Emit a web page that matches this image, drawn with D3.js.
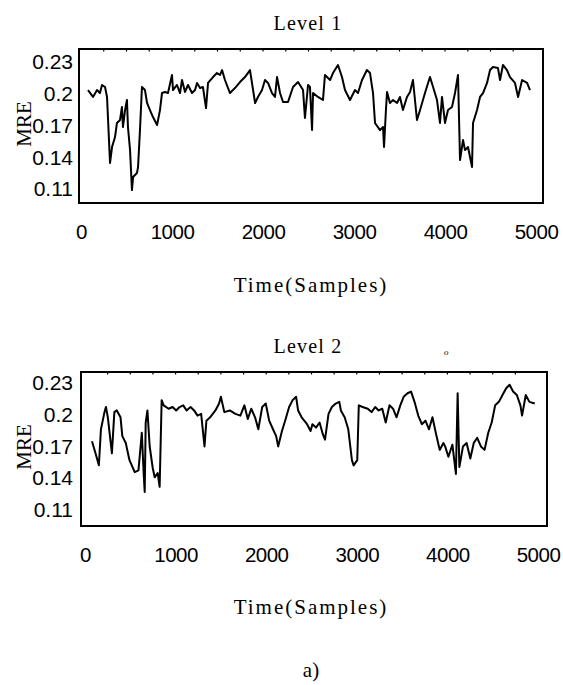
<!DOCTYPE html>
<html>
<head>
<meta charset="utf-8">
<script src="https://cdn.jsdelivr.net/npm/d3@7"></script>
<style>
  html, body { margin: 0; padding: 0; background: #fff; }
  svg { display: block; }
</style>
</head>
<body>
<svg id="chart" width="563" height="685"></svg>
<script>
// ---------------- data ----------------
const xTickValues = [0, 1000, 2000, 3000, 4000, 5000];
const yTickValues = [0.11, 0.14, 0.17, 0.2, 0.23];
const yTickLabels = ["0.11", "0.14", "0.17", "0.2", "0.23"];
const panelTitles = ["Level 1", "Level 2"];
const xAxisTitle = "Time(Samples)";
const yAxisTitle = "MRE";
const figureCaption = "a)";

const level1Samples = [77,132,176,208,231,264,286,319,341,374,395,429,450,461,484,505,516,539,560,572,615,627,648,670,703,726,758,791,836,868,890,923,956,1000,1011,1055,1088,1110,1143,1176,1220,1253,1275,1308,1340,1374,1396,1451,1494,1527,1550,1582,1637,1692,1747,1802,1857,1879,1913,1945,1989,2022,2055,2099,2132,2154,2187,2220,2275,2330,2385,2440,2461,2495,2516,2539,2550,2604,2659,2681,2737,2769,2824,2868,2901,2956,3011,3044,3088,3142,3176,3209,3231,3286,3319,3330,3351,3363,3395,3429,3473,3505,3538,3582,3616,3648,3692,3726,3780,3835,3869,3912,3945,3967,4000,4033,4077,4110,4143,4165,4198,4220,4253,4297,4308,4352,4385,4418,4462,4495,4527,4582,4605,4637,4681,4714,4769,4803,4847,4902,4934];
const level1MRE = [0.2035,0.197,0.2035,0.2007,0.2083,0.2064,0.197,0.1346,0.1497,0.1591,0.1724,0.1752,0.1875,0.1686,0.1846,0.1941,0.1686,0.1468,0.109,0.1213,0.1251,0.1308,0.1657,0.2064,0.2035,0.1913,0.1846,0.178,0.1705,0.1846,0.2007,0.2017,0.2007,0.2177,0.2035,0.2083,0.2007,0.213,0.2017,0.2083,0.2007,0.2035,0.2102,0.2054,0.2064,0.1865,0.2102,0.2158,0.2196,0.2177,0.2224,0.213,0.2007,0.2054,0.2111,0.2158,0.2224,0.2102,0.1913,0.197,0.2035,0.213,0.2102,0.2007,0.197,0.2158,0.2007,0.1922,0.1922,0.2064,0.2111,0.2035,0.1771,0.2083,0.2064,0.1657,0.2007,0.197,0.1941,0.2177,0.213,0.2196,0.2272,0.2158,0.2035,0.1941,0.2035,0.2007,0.213,0.2224,0.2196,0.2007,0.1724,0.1657,0.1686,0.1497,0.1846,0.2017,0.1913,0.1941,0.1913,0.197,0.1846,0.197,0.2017,0.213,0.1752,0.1846,0.2007,0.2158,0.2064,0.1941,0.1724,0.197,0.1724,0.1846,0.1875,0.2007,0.2177,0.1374,0.1563,0.1468,0.1497,0.1308,0.1724,0.1846,0.197,0.2007,0.2102,0.2224,0.2253,0.2243,0.213,0.2272,0.2224,0.2158,0.2102,0.197,0.213,0.2102,0.2035];

const level2Samples = [77,116,153,176,215,231,252,297,324,351,392,412,450,491,549,590,627,648,659,670,689,714,747,769,802,824,846,868,923,967,1006,1044,1084,1121,1165,1204,1242,1282,1319,1340,1381,1439,1480,1500,1538,1598,1660,1715,1759,1797,1835,1877,1913,1956,1995,2033,2075,2110,2132,2174,2209,2253,2292,2330,2352,2391,2451,2490,2510,2550,2589,2626,2649,2688,2725,2767,2807,2824,2866,2906,2946,2965,3005,3022,3064,3121,3163,3203,3241,3281,3319,3361,3400,3439,3480,3517,3560,3599,3637,3678,3718,3758,3797,3835,3876,3915,3956,3975,4011,4055,4094,4113,4132,4172,4212,4253,4291,4329,4370,4410,4451,4489,4527,4568,4608,4649,4686,4725,4766,4806,4824,4865,4905,4964];
const level2MRE = [0.1749,0.1636,0.1522,0.1863,0.2025,0.2073,0.1976,0.1636,0.2025,0.2041,0.1976,0.1798,0.1733,0.1571,0.1458,0.1474,0.183,0.1441,0.127,0.1927,0.2041,0.17,0.15,0.1409,0.145,0.132,0.2138,0.2089,0.2057,0.2073,0.2041,0.2073,0.2089,0.2041,0.2073,0.2041,0.1992,0.2008,0.1701,0.1944,0.1976,0.2041,0.2106,0.217,0.2025,0.2041,0.2008,0.1992,0.2089,0.196,0.2057,0.1976,0.1863,0.2073,0.2106,0.1944,0.1863,0.1798,0.1701,0.1846,0.1944,0.2073,0.2138,0.217,0.2041,0.1976,0.1911,0.1846,0.1911,0.1879,0.1927,0.1814,0.1765,0.2008,0.2073,0.2106,0.2122,0.2041,0.1976,0.1863,0.1571,0.1522,0.1571,0.2089,0.2073,0.2057,0.2025,0.2073,0.2041,0.2057,0.1927,0.2089,0.2057,0.1976,0.2089,0.217,0.2203,0.2219,0.2122,0.1992,0.1911,0.1944,0.1863,0.1976,0.1814,0.1668,0.1733,0.1701,0.1603,0.1717,0.1441,0.2203,0.1506,0.1701,0.1733,0.1587,0.1733,0.1782,0.1701,0.1668,0.183,0.1927,0.2089,0.2122,0.2187,0.2251,0.2284,0.2219,0.2187,0.2089,0.1992,0.2187,0.2122,0.2106];

const panelSamples = [level1Samples, level2Samples];
const panelValues = [level1MRE, level2MRE];

// ---------------- layout ----------------
const panels = [
  { frame: { x0: 79, x1: 543, y0: 49, y1: 203 }, xRange: [81, 536], yDomain: [0.0968, 0.2423], yPad: 6, titleY: 30, xTitleY: 292, mreY: 124 },
  { frame: { x0: 81, x1: 547, y0: 372, y1: 526 }, xRange: [85, 538], yDomain: [0.0949, 0.2404], yPad: 8, titleY: 353, xTitleY: 614, mreY: 447 }
];

const svg = d3.select("#chart");
const serif = "'Liberation Serif', 'Times New Roman', serif";
const sans = "'Liberation Sans', Arial, sans-serif";

panels.forEach((p, i) => {
  const f = p.frame;
  const x = d3.scaleLinear().domain([0, 5000]).range(p.xRange);
  const y = d3.scaleLinear().domain(p.yDomain).range([f.y1, f.y0]);
  const g = svg.append("g");

  // data line
  const pts = panelSamples[i].map((s, k) => [s, panelValues[i][k]]);
  g.append("path")
    .datum(pts)
    .attr("fill", "none")
    .attr("stroke", "#000")
    .attr("stroke-width", 2)
    .attr("stroke-linejoin", "round")
    .attr("d", d3.line().x(d => x(d[0])).y(d => y(d[1])));

  // frame
  g.append("rect")
    .attr("x", f.x0).attr("y", f.y0)
    .attr("width", f.x1 - f.x0).attr("height", f.y1 - f.y0)
    .attr("fill", "none").attr("stroke", "#000").attr("stroke-width", 2);

  // small inward ticks on top edge
  g.append("g")
    .selectAll("line")
    .data(d3.range(250, 5000, 250))
    .join("line")
    .attr("x1", d => x(d)).attr("x2", d => x(d))
    .attr("y1", f.y0).attr("y2", f.y0 + 2.5)
    .attr("stroke", "#000").attr("stroke-width", 1.2);

  // x axis labels
  const xa = g.append("g")
    .attr("transform", `translate(0,${f.y1})`)
    .call(d3.axisBottom(x).tickValues(xTickValues).tickSize(0).tickPadding(21).tickFormat(d3.format("d")));
  xa.select(".domain").remove();
  xa.selectAll("text").attr("font-family", sans).attr("font-size", 20.5)
    .attr("letter-spacing", -0.5).attr("fill", "#000");

  // y axis labels
  const ya = g.append("g")
    .attr("transform", `translate(${f.x0},0)`)
    .call(d3.axisLeft(y).tickValues(yTickValues).tickSize(0).tickPadding(p.yPad)
      .tickFormat((d, k) => yTickLabels[k]));
  ya.select(".domain").remove();
  ya.selectAll("text").attr("font-family", sans).attr("font-size", 21).attr("fill", "#000");

  // titles
  g.append("text")
    .attr("x", 308).attr("y", p.titleY)
    .attr("text-anchor", "middle")
    .attr("font-family", serif).attr("font-size", 20)
    .attr("letter-spacing", 1.2)
    .text(panelTitles[i]);

  g.append("text")
    .attr("x", 311).attr("y", p.xTitleY)
    .attr("text-anchor", "middle")
    .attr("font-family", serif).attr("font-size", 21)
    .attr("letter-spacing", 2)
    .text(xAxisTitle);

  g.append("text")
    .attr("transform", `translate(31,${p.mreY}) rotate(-90)`)
    .attr("text-anchor", "middle")
    .attr("font-family", serif).attr("font-size", 21)
    .text(yAxisTitle);
});

// scan mark near the second title
svg.append("text")
  .attr("x", 444).attr("y", 355)
  .attr("font-family", serif).attr("font-style", "italic").attr("font-size", 9)
  .text("o");

svg.append("text")
  .attr("x", 311).attr("y", 677)
  .attr("text-anchor", "middle")
  .attr("font-family", serif).attr("font-size", 21)
  .text(figureCaption);
</script>
</body>
</html>
